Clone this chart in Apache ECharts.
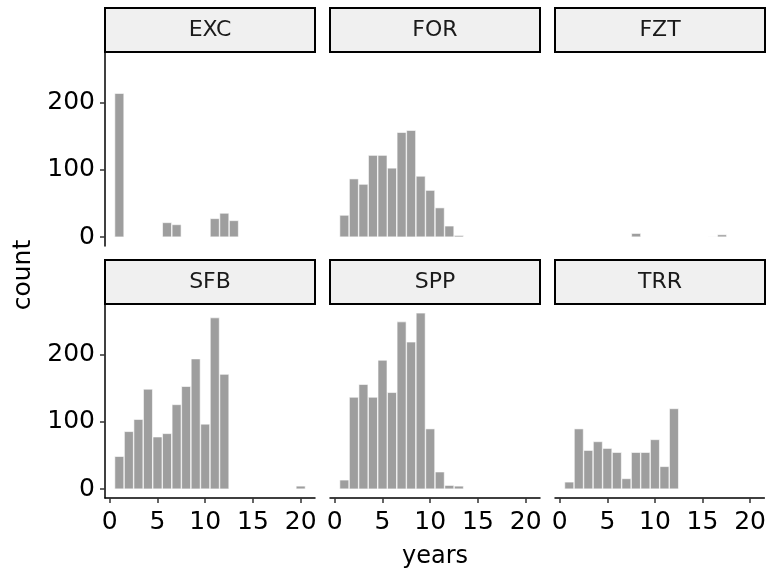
<!DOCTYPE html>
<html>
<head>
<meta charset="utf-8">
<script src="https://cdn.jsdelivr.net/npm/echarts@6/dist/echarts.min.js"></script>
<style>
html, body { margin: 0; background: #fff; }
#chart { width: 769px; height: 573px; }
</style>
</head>
<body>
<div id="chart"></div>
<script>
// histogram counts per facet, one bin per year (1..20)
const years = [1, 2, 3, 4, 5, 6, 7, 8, 9, 10, 11, 12, 13, 14, 15, 16, 17, 18, 19, 20]
const panelNames = ['EXC', 'FOR', 'FZT', 'SFB', 'SPP', 'TRR']
const excCounts = [214, 0, 0, 0, 0, 22, 19, 0, 0, 0, 28, 36, 25, 0, 0, 0, 0, 0, 0, 0]
const forCounts = [33, 87, 79, 122, 122, 103, 156, 159, 91, 70, 44, 17, 3, 0, 0, 0, 0, 0, 0, 0]
const fztCounts = [0, 0, 0, 0, 0, 0, 0, 6, 0, 0, 0, 0, 0, 0, 0, 1, 4, 0, 0, 0]
const sfbCounts = [49, 86, 104, 149, 78, 83, 126, 153, 194, 97, 255, 171, 0, 0, 0, 0, 0, 0, 0, 5]
const sppCounts = [14, 137, 156, 137, 192, 144, 249, 219, 262, 90, 26, 6, 5, 0, 0, 0, 0, 0, 0, 0]
const trrCounts = [11, 90, 58, 71, 61, 55, 16, 55, 55, 74, 34, 120, 0, 0, 0, 0, 0, 0, 0, 0]
const xTicks = [0, 5, 10, 15, 20]
const yTicks = [0, 100, 200]

const allCounts = [excCounts, forCounts, fztCounts, sfbCounts, sppCounts, trrCounts]

const colLeft = [105, 330, 555]
const colWidth = 210
const rowTop = [52, 304]
const rowHeight = 194
const stripHeight = 44
const font = 'DejaVu Sans'

const yMaxData = Math.max(...allCounts.map(c => Math.max(...c)))
const yMin = -yMaxData * 0.05
const yMax = yMaxData * 1.05

const grids = []
const xAxes = []
const yAxes = []
const series = []
const graphics = []

panelNames.forEach((name, i) => {
    const col = i % 3
    const row = Math.floor(i / 3)
    const left = colLeft[col]
    const top = rowTop[row]
    grids.push({ left: left, top: top, width: colWidth, height: rowHeight })

    const showX = row === 1
    const showY = col === 0
    xAxes.push({
        type: 'value', gridIndex: i, min: -0.5, max: 21.5,
        splitLine: { show: false },
        axisLine: { show: showX, onZero: false, lineStyle: { color: '#000', width: 1.5 } },
        axisTick: { show: showX, length: 5, customValues: xTicks, lineStyle: { color: '#333', width: 1.5 } },
        axisLabel: { show: showX, customValues: xTicks, margin: 12, color: '#000', fontSize: 25, fontFamily: font }
    })
    yAxes.push({
        type: 'value', gridIndex: i, min: yMin, max: yMax,
        splitLine: { show: false },
        axisLine: { show: showY, onZero: false, lineStyle: { color: '#000', width: 1.5 } },
        axisTick: { show: showY, length: 5, customValues: yTicks, lineStyle: { color: '#333', width: 1.5 } },
        axisLabel: { show: showY, customValues: yTicks, margin: 10, color: '#000', fontSize: 25, fontFamily: font }
    })
    series.push({
        type: 'bar', xAxisIndex: i, yAxisIndex: i,
        data: years.map((y, k) => [y, allCounts[i][k]]),
        barWidth: 9.6,
        itemStyle: { color: '#9e9e9e', borderColor: '#fff', borderWidth: 0.6 },
        silent: true
    })

    graphics.push({
        type: 'rect',
        shape: { x: left, y: top - stripHeight, width: colWidth, height: stripHeight },
        style: { fill: '#f0f0f0', stroke: '#000', lineWidth: 2 }
    })
    graphics.push({
        type: 'text',
        x: left + colWidth / 2, y: top - stripHeight / 2,
        style: { text: name, fill: '#1a1a1a', fontSize: 22, fontFamily: font, textAlign: 'center', textVerticalAlign: 'middle' }
    })
})

graphics.push({
    type: 'text', x: (colLeft[0] + colLeft[2] + colWidth) / 2, y: 557,
    style: { text: 'years', fill: '#000', fontSize: 24, fontFamily: font, textAlign: 'center', textVerticalAlign: 'middle' }
})
graphics.push({
    type: 'text', x: 23, y: 275, rotation: Math.PI / 2,
    style: { text: 'count', fill: '#000', fontSize: 25, fontFamily: font, textAlign: 'center', textVerticalAlign: 'middle' }
})

const chart = echarts.init(document.getElementById('chart'), null, { renderer: 'canvas' })
chart.setOption({
    animation: false,
    backgroundColor: '#fff',
    grid: grids,
    xAxis: xAxes,
    yAxis: yAxes,
    series: series,
    graphic: graphics
})
</script>
</body>
</html>
